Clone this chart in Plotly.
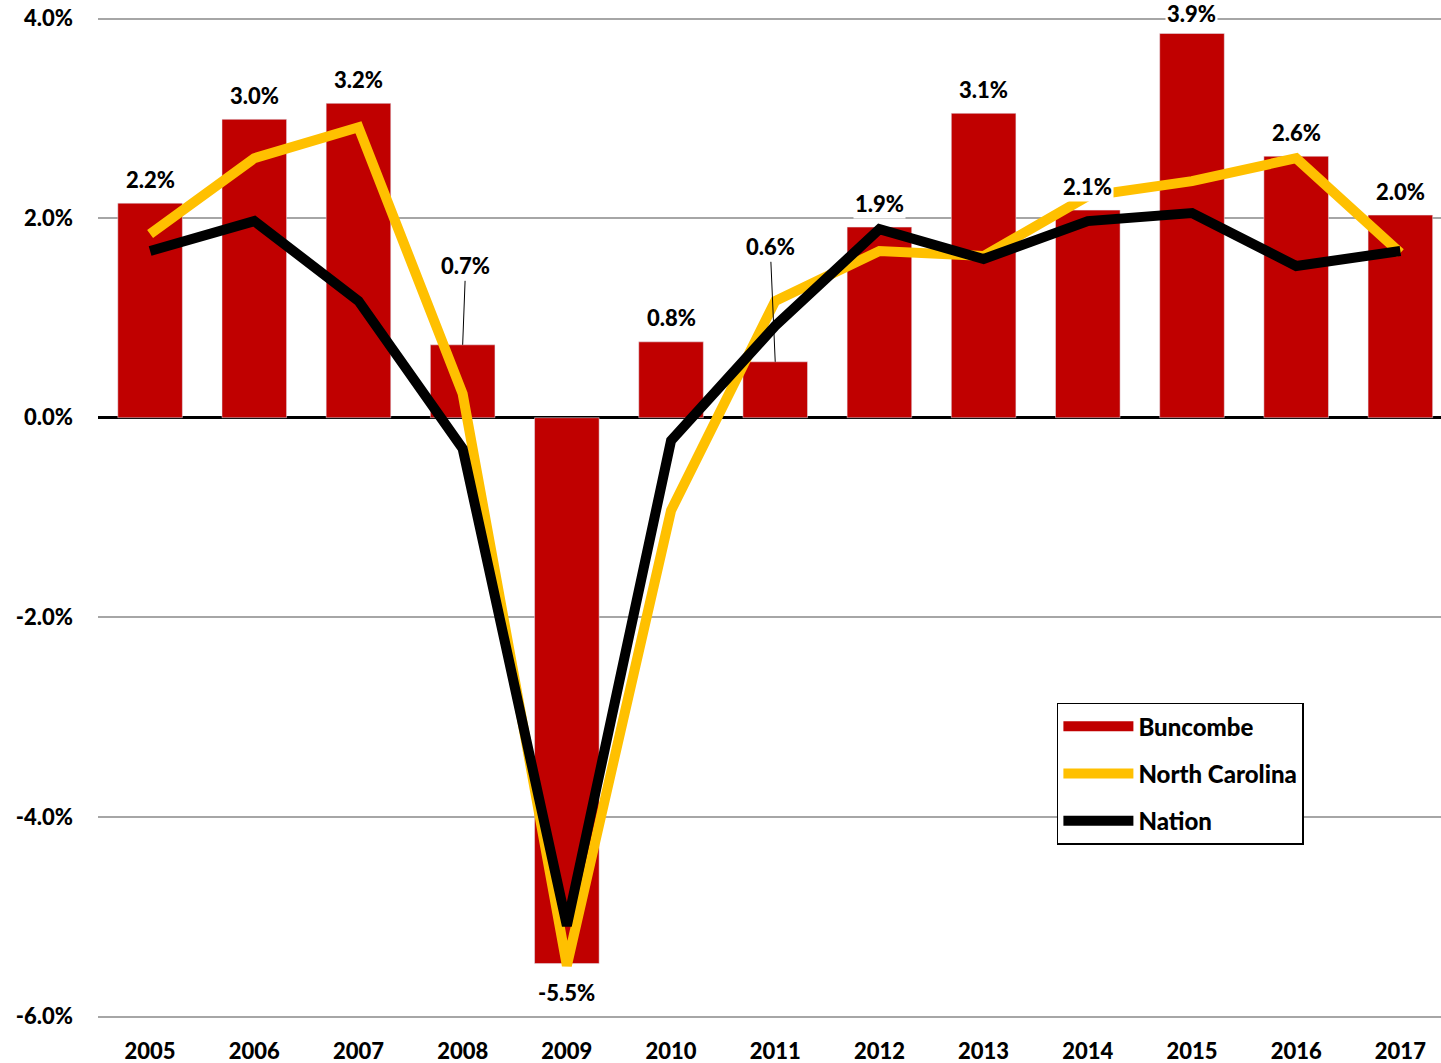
import plotly.graph_objects as go

years = ["2005", "2006", "2007", "2008", "2009", "2010", "2011", "2012",
         "2013", "2014", "2015", "2016", "2017"]
buncombe = [2.15, 2.99, 3.15, 0.73, -5.47, 0.76, 0.56, 1.91, 3.05, 2.08, 3.85, 2.62, 2.03]
north_carolina = [1.84, 2.60, 2.91, 0.24, -5.49, -0.93, 1.17, 1.67, 1.62, 2.22, 2.37, 2.60, 1.65]
nation = [1.67, 1.97, 1.17, -0.31, -5.09, -0.23, 0.92, 1.89, 1.59, 1.97, 2.05, 1.52, 1.67]
bar_labels = ["2.2%", "3.0%", "3.2%", "0.7%", "-5.5%", "0.8%", "0.6%", "1.9%",
              "3.1%", "2.1%", "3.9%", "2.6%", "2.0%"]
y_ticks = [-6, -4, -2, 0, 2, 4]
y_tick_labels = ["-6.0%", "-4.0%", "-2.0%", "0.0%", "2.0%", "4.0%"]

FONT = "Lato"
RED = "#C00000"
GOLD = "#FFC000"
FS = 22
W = 900

xs = list(range(len(years)))

fig = go.Figure()
fig.add_trace(go.Bar(x=xs, y=buncombe, name="Buncombe", marker_color=RED,
                     width=0.62, showlegend=False))
# legend-only entry so the Buncombe key is drawn as a wide red rectangle
fig.add_trace(go.Scatter(x=[None], y=[None], name="Buncombe", mode="lines",
                         line=dict(color=RED, width=15), legendgroup="a", legendrank=1))
fig.add_trace(go.Scatter(x=xs, y=north_carolina, name="North Carolina", mode="lines",
                         line=dict(color=GOLD, width=10), legendgroup="b", legendrank=2))
fig.add_trace(go.Scatter(x=xs, y=nation, name="Nation", mode="lines",
                         line=dict(color="black", width=10), legendgroup="c", legendrank=3))

lab_font = dict(family=FONT, size=FS, color="black", weight=W)
leaders = {3: (3, -79), 6: (-5, -115)}
for i, (v, t) in enumerate(zip(buncombe, bar_labels)):
    if i in leaders:
        ax, ay = leaders[i]
        fig.add_annotation(x=xs[i], y=v, text=t, showarrow=True,
                           arrowhead=0, arrowwidth=1, arrowcolor="black",
                           ax=ax, ay=ay, font=lab_font,
                           bgcolor="white", borderpad=1)
    else:
        fig.add_annotation(x=xs[i], y=v, text=t, showarrow=False,
                           yshift=(-29 if v < 0 else (20 if v > 3.5 else 24)),
                           font=lab_font, bgcolor="white", borderpad=1)

fig.update_layout(
    width=1441, height=1063,
    margin=dict(l=98, r=0, t=16.5, b=44.5, autoexpand=False),
    paper_bgcolor="white", plot_bgcolor="white",
    font=lab_font,
    bargap=0.38,
    showlegend=True,
    legend=dict(x=0.714, y=0.315, xanchor="left", yanchor="top",
                bgcolor="white", bordercolor="black", borderwidth=1.5,
                font=dict(family=FONT, size=24, color="black", weight=W),
                tracegroupgap=13, itemwidth=70),
    xaxis=dict(range=[-0.5, 12.39], tickmode="array", tickvals=xs,
               ticktext=years,
               showgrid=False, zeroline=False, showline=False,
               ticks="", ticklabelstandoff=18, tickfont=lab_font),
    yaxis=dict(range=[-6.015, 4.015], tickmode="array", tickvals=y_ticks,
               ticktext=y_tick_labels,
               showgrid=True, gridcolor="#A6A6A6", gridwidth=1.5,
               zeroline=True, zerolinecolor="black", zerolinewidth=3,
               showline=False, ticks="", ticklabelstandoff=24, tickfont=lab_font),
)

fig.write_html("out.html", config={"displayModeBar": False},
               post_script="document.body.style.margin='0';document.body.style.overflow='hidden';")
